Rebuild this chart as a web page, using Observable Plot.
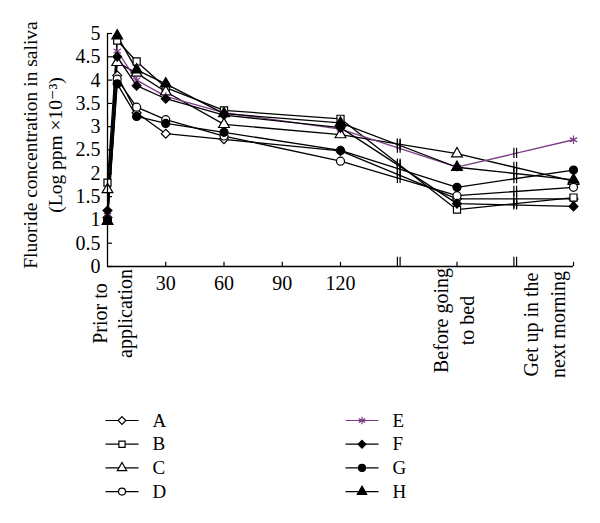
<!DOCTYPE html>
<html>
<head>
    <meta charset="UTF-8">
    <title>Fluoride concentration in saliva</title>
    <script src="https://cdn.jsdelivr.net/npm/d3@7"></script>
    <script src="https://cdn.jsdelivr.net/npm/@observablehq/plot@0.6"></script>
    <style>
        body { margin: 0; background: #fff; }
        svg { display: block; }
    </style>
</head>
<body>
    <div id="graph"></div>
    <div id="legend"></div>
    <script>
        // sampling times in minutes (180 = before bed, 240 = next morning)
        const times = [0, 5, 15, 30, 60, 120, 180, 240];
        const series = ["A", "B", "C", "D", "E", "F", "G", "H"];

        const valA = [1.05, 4.10, 3.30, 2.85, 2.73, 2.48, 1.45, 1.45];
        const valB = [1.80, 4.85, 4.40, 3.84, 3.35, 3.17, 1.22, 1.48];
        const valC = [1.65, 4.38, 4.15, 3.75, 3.05, 2.83, 2.42, 1.83];
        const valD = [1.00, 4.02, 3.42, 3.15, 2.80, 2.26, 1.52, 1.70];
        const valE = [1.10, 4.62, 4.00, 3.65, 3.30, 2.95, 2.13, 2.72];
        const valF = [1.20, 4.50, 3.88, 3.60, 3.25, 2.98, 1.35, 1.29];
        const valG = [1.00, 3.92, 3.22, 3.07, 2.88, 2.49, 1.70, 2.07];
        const valH = [0.97, 4.95, 4.22, 3.92, 3.28, 3.08, 2.13, 1.86];
        const values = [valA, valB, valC, valD, valE, valF, valG, valH];

        const yTicks = [0, 0.5, 1, 1.5, 2, 2.5, 3, 3.5, 4, 4.5, 5];
        const xTickLabels = [30, 60, 90, 120];
        const xTickMarks = [30, 60, 90, 120, 180, 240];
        const breakTimes = [150, 210];
        const labelTexts = ["Prior to\napplication", "Before going\nto bed", "Get up in the\nnext morning"];
        const labelTimes = [0, 180, 240];

        const symbols = ["diamond2", "square", "triangle", "circle", "asterisk", "diamond2", "circle", "triangle"];
        const purple = "#7d3c87";
        const fills = ["white", "white", "white", "white", "none", "black", "black", "black"];
        const strokes = ["black", "black", "black", "black", purple, "black", "black", "black"];

        const rows = series.flatMap((s, i) => times.map((t, j) => ({s, i, t, v: values[i][j]})));

        // where each line crosses the axis breaks (midway between neighbouring samples)
        const breakRows = series.flatMap((s, i) => breakTimes.map(b => {
            const j = times.indexOf(b - 30);
            return {t: b, v: (values[i][j] + values[i][j + 1]) / 2};
        }));

        const H = 385;
        const font = "'Liberation Serif', 'DejaVu Serif', serif";

        const lineMarks = series.map((s, i) =>
            Plot.line(rows.filter(d => d.i === i), {x: "t", y: "v", stroke: strokes[i], strokeWidth: 1.3}));
        const dotMarks = series.map((s, i) =>
            Plot.dot(rows.filter(d => d.i === i), {
                x: "t", y: "v", symbol: symbols[i], r: 4,
                fill: fills[i], stroke: strokes[i], strokeWidth: 1.2
            }));

        const plot = Plot.plot({
            width: 600,
            height: H,
            marginLeft: 107,
            marginRight: 27,
            marginTop: 33,
            marginBottom: H - 266,
            x: {domain: [0, 240], axis: null},
            y: {domain: [0, 5], axis: null},
            style: {fontFamily: font, fontSize: "20px", color: "black", background: "white"},
            marks: [
                ...lineMarks,
                // break marks on the lines
                Plot.ruleX(breakRows, {x: d => d.t - 0.7, y1: d => d.v - 0.11, y2: d => d.v + 0.11, strokeWidth: 1.2}),
                Plot.ruleX(breakRows, {x: d => d.t + 0.7, y1: d => d.v - 0.11, y2: d => d.v + 0.11, strokeWidth: 1.2}),
                ...dotMarks,
                // axes
                Plot.ruleX([0], {y1: 0, y2: 5, strokeWidth: 1.3}),
                Plot.ruleY([0], {x1: 0, x2: 240, strokeWidth: 1.3}),
                Plot.ruleY(yTicks, {x1: 0, x2: 2.6, strokeWidth: 1.2}),
                Plot.text(yTicks, {x: 0, y: d => d, text: d => String(d), textAnchor: "end", dx: -7}),
                Plot.ruleX(xTickMarks, {y1: 0, y2: 0.09, strokeWidth: 1.2}),
                Plot.text(xTickLabels, {x: d => d, y: 0, text: d => String(d), dy: 17}),
                Plot.ruleX(breakTimes, {x: d => d - 0.7, y1: -0.02, y2: 0.2, strokeWidth: 1.2}),
                Plot.ruleX(breakTimes, {x: d => d + 0.7, y1: -0.02, y2: 0.2, strokeWidth: 1.2}),
                Plot.text([0], {x: labelTimes[0], y: 0, text: [labelTexts[0]], rotate: -90, lineHeight: 1.25, dx: 4, dy: 47}),
                Plot.text([0], {x: labelTimes[1], y: 0, text: [labelTexts[1]], rotate: -90, lineHeight: 1.3, dx: -4, dy: 54}),
                Plot.text([0], {x: labelTimes[2], y: 0, text: [labelTexts[2]], rotate: -90, lineHeight: 1.375, dx: -31, dy: 58}),
                Plot.text(["Fluoride concentration in saliva\n(Log ppm \u00d710\u207b\u00b3)"], {
                    frameAnchor: "left", text: d => d, rotate: -90, textAnchor: "middle", lineAnchor: "middle",
                    fontSize: 19.5, lineHeight: 1.28, dx: -66, dy: -5
                })
            ]
        });
        document.querySelector("#graph").append(plot);

        // legend: two columns of four
        const legendItems = series.map((s, i) => ({s, i, col: Math.floor(i / 4), row: i % 4}));
        const colX = [105, 345];
        const legend = Plot.plot({
            width: 600,
            height: 523 - H,
            margin: 0,
            x: {type: "identity"},
            y: {type: "identity"},
            style: {fontFamily: font, fontSize: "19px", color: "black", background: "white"},
            marks: [
                Plot.link(legendItems, {
                    x1: d => colX[d.col], x2: d => colX[d.col] + 33,
                    y1: d => 35 + d.row * 23.7, y2: d => 35 + d.row * 23.7,
                    stroke: d => strokes[d.i], strokeWidth: 1.2
                }),
                ...legendItems.map(d => Plot.dot([d], {
                    x: colX[d.col] + 16.5, y: 35 + d.row * 23.7, symbol: symbols[d.i], r: 3.5,
                    fill: fills[d.i], stroke: strokes[d.i], strokeWidth: 1.2
                })),
                Plot.text(legendItems, {
                    x: d => colX[d.col] + 47, y: d => 35 + d.row * 23.7,
                    text: "s", textAnchor: "start"
                })
            ]
        });
        document.querySelector("#legend").append(legend);
    </script>
</body>
</html>
